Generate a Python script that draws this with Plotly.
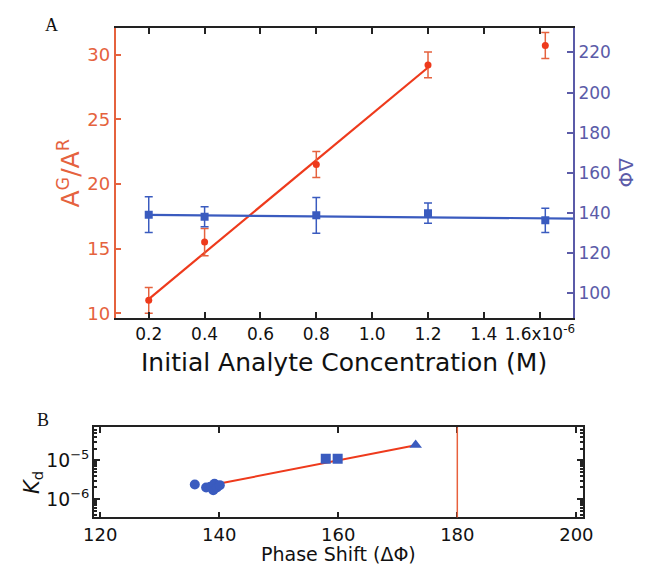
import plotly.graph_objects as go

# ---------------- Panel A data ----------------
conc = [0.2, 0.4, 0.8, 1.2, 1.62]              # x 1e-6 M
ratio = [11.0, 15.5, 21.5, 29.2, 30.7]          # A^G/A^R
ratio_err = [1.0, 1.05, 1.0, 1.0, 1.0]
phase = [139.2, 138.2, 138.9, 140.0, 136.4]     # ΔΦ
phase_err = [8.9, 5.0, 8.9, 5.0, 6.0]
ratio_fit_x = [0.2, 1.2]
ratio_fit_y = [11.1, 29.0]
phase_fit_x = [0.2, 1.72]
phase_fit_y = [139.1, 137.3]
x_ticks = [0.2, 0.4, 0.6, 0.8, 1.0, 1.2, 1.4, 1.6]
x_ticktext = ["0.2", "0.4", "0.6", "0.8", "1.0", "1.2", "1.4", "1.6x10<sup>-6</sup>"]

# ---------------- Panel B data ----------------
circ_x = [135.9, 137.8, 138.5, 139.0, 139.2, 139.6, 140.1]
circ_y = [2.4e-6, 2.0e-6, 2.1e-6, 1.7e-6, 2.5e-6, 2.0e-6, 2.3e-6]
sq_x = [157.9, 159.9]
sq_y = [1.1e-5, 1.1e-5]
tri_x = [173.0]
tri_y = [2.5e-5]
kd_fit_x = [140.5, 173.0]
kd_fit_y = [2.6e-6, 2.45e-5]
limit_x = 180

RED = "#ee3a1c"
RED_AX = "#e5623e"
BLUE = "#3a5bbf"
BLUE_AX = "#5b5ba8"
FONT = "DejaVu Sans"

fig = go.Figure()

# Panel A traces
fig.add_trace(go.Scatter(x=ratio_fit_x, y=ratio_fit_y, mode="lines",
                         line=dict(color=RED, width=2.2), xaxis="x", yaxis="y",
                         showlegend=False, hoverinfo="skip"))
fig.add_trace(go.Scatter(x=conc, y=ratio, mode="markers",
                         marker=dict(color=RED, size=7, symbol="circle"),
                         error_y=dict(type="data", array=ratio_err, color=RED_AX,
                                      thickness=1.5, width=4),
                         xaxis="x", yaxis="y", showlegend=False))
fig.add_trace(go.Scatter(x=phase_fit_x, y=phase_fit_y, mode="lines",
                         line=dict(color=BLUE, width=2.2), xaxis="x", yaxis="y2",
                         showlegend=False, hoverinfo="skip"))
fig.add_trace(go.Scatter(x=conc, y=phase, mode="markers",
                         marker=dict(color=BLUE, size=8, symbol="square"),
                         error_y=dict(type="data", array=phase_err, color=BLUE,
                                      thickness=1.5, width=4),
                         xaxis="x", yaxis="y2", showlegend=False))

# Panel B traces
fig.add_trace(go.Scatter(x=kd_fit_x, y=kd_fit_y, mode="lines",
                         line=dict(color=RED, width=2), xaxis="x3", yaxis="y3",
                         showlegend=False, hoverinfo="skip"))
fig.add_trace(go.Scatter(x=circ_x, y=circ_y, mode="markers",
                         marker=dict(color=BLUE, size=10, symbol="circle"),
                         xaxis="x3", yaxis="y3", showlegend=False))
fig.add_trace(go.Scatter(x=sq_x, y=sq_y, mode="markers",
                         marker=dict(color=BLUE, size=10, symbol="square"),
                         xaxis="x3", yaxis="y3", showlegend=False))
fig.add_trace(go.Scatter(x=tri_x, y=tri_y, mode="markers",
                         marker=dict(color=BLUE, size=11, symbol="triangle-up"),
                         xaxis="x3", yaxis="y3", showlegend=False))

fig.add_shape(type="line", x0=limit_x, x1=limit_x, y0=0, y1=1,
              xref="x3", yref="y3 domain", line=dict(color="#e8603c", width=1.5))

W, H = 650, 570
def px(v):
    return v / W
def py(v):
    return 1 - v / H

def ann(text, x, y, size, color="#111", family=FONT, angle=0):
    return dict(text=text, x=px(x), y=py(y), xref="paper", yref="paper",
                xanchor="center", yanchor="middle", textangle=angle,
                showarrow=False, font=dict(family=family, size=size, color=color))

fig.update_layout(
    width=W, height=H,
    margin=dict(l=0, r=0, t=0, b=0),
    paper_bgcolor="white", plot_bgcolor="white",
    font=dict(family=FONT, size=16, color="black"),
    xaxis=dict(domain=[px(108), px(581)], anchor="y", range=[0.081, 1.72],
               tickmode="array", tickvals=x_ticks, ticktext=x_ticktext,
               ticks="inside", ticklen=6, tickwidth=1.5, tickcolor="#222",
               showline=True, linecolor="#222", linewidth=1.5, mirror="ticks",
               showgrid=False, zeroline=False,
               tickfont=dict(family=FONT, size=17, color="#111")),
    yaxis=dict(domain=[py(321), py(28)], anchor="x", range=[9.62, 32.07],
               tickvals=[10, 15, 20, 25, 30],
               ticks="inside", ticklen=6, tickwidth=1.5, tickcolor=RED_AX,
               showline=True, linecolor=RED_AX, linewidth=1.5,
               showgrid=False, zeroline=False,
               tickfont=dict(family=FONT, size=18, color=RED_AX)),
    yaxis2=dict(overlaying="y", side="right", anchor="x", range=[87.7, 232.3],
                tickvals=[100, 120, 140, 160, 180, 200, 220],
                ticks="inside", ticklen=6, tickwidth=1.5, tickcolor=BLUE_AX,
                showline=True, linecolor=BLUE_AX, linewidth=1.5,
                showgrid=False, zeroline=False,
                tickfont=dict(family=FONT, size=17, color=BLUE_AX)),
    xaxis3=dict(domain=[px(86), px(591)], anchor="y3", range=[119, 201.1],
                tickvals=[120, 140, 160, 180, 200],
                ticks="inside", ticklen=6, tickwidth=1.5, tickcolor="#222",
                showline=True, linecolor="#222", linewidth=1.5, mirror="ticks",
                showgrid=False, zeroline=False,
                tickfont=dict(family=FONT, size=18, color="#111")),
    yaxis3=dict(domain=[py(522), py(431)], anchor="x3", type="log",
                range=[-6.47, -4.146], dtick=1, exponentformat="power",
                ticks="inside", ticklen=6, tickwidth=1.5, tickcolor="#222",
                minor=dict(ticks="inside", ticklen=3, tickcolor="#222", dtick="D1"),
                showline=True, linecolor="#222", linewidth=1.5, mirror="allticks",
                showgrid=False, zeroline=False,
                tickfont=dict(family=FONT, size=15, color="#111")),
    annotations=[
        ann("A", 42, 25, 18, family="Liberation Serif"),
        ann("B", 33, 424, 18, family="Liberation Serif"),
        ann("A<sup>G</sup>/A<sup>R</sup>", 60, 175, 25, color=RED_AX, angle=-90),
        ann("ΔΦ", 635, 174, 20, color=BLUE_AX, angle=90),
        ann("Initial Analyte Concentration (M)", 344, 366, 25),
        ann("Phase Shift (ΔΦ)", 338, 559, 19),
        ann("<i>K</i><sub>d</sub>", 22, 487, 21, angle=-90),
    ],
)

fig.write_html("out.html", config={"displayModeBar": False},
               post_script="document.body.style.margin='0px';document.body.style.overflow='hidden';")
